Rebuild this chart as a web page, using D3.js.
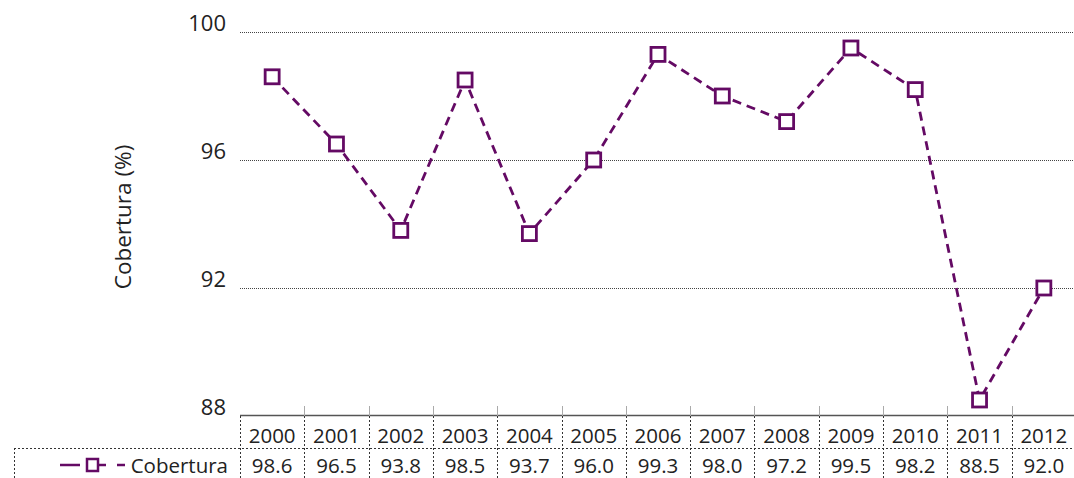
<!DOCTYPE html>
<html><head><meta charset="utf-8">
<script src="https://cdn.jsdelivr.net/npm/d3@7"></script>
<style>body{margin:0;background:#fff}svg{display:block}text{font-family:"Open Sans","Noto Sans",sans-serif;fill:#222}</style>
</head><body>
<script>
const years = ["2000","2001","2002","2003","2004","2005","2006","2007","2008","2009","2010","2011","2012"];
const values = [98.6,96.5,93.8,98.5,93.7,96.0,99.3,98.0,97.2,99.5,98.2,88.5,92.0];
const valueLabels = ["98.6","96.5","93.8","98.5","93.7","96.0","99.3","98.0","97.2","99.5","98.2","88.5","92.0"];
const yTicks = [88,92,96,100];
const seriesName = "Cobertura";
const axisTitle = "Cobertura (%)";
const color = "#640a64";

const W=1074,H=478;
const FS=20.5;
const svg=d3.select("body").append("svg").attr("width",W).attr("height",H);
const x=d3.scaleBand().domain(years).range([240,1076]);
const y=d3.scaleLinear().domain([88,100]).range([416,32]);

// gridlines
svg.append("g").selectAll("line").data(yTicks.filter(d=>d>88)).join("line")
 .attr("x1",240).attr("x2",W).attr("y1",d=>y(d)+0.5).attr("y2",d=>y(d)+0.5)
 .attr("stroke","#444").attr("stroke-width",1).attr("stroke-dasharray","1,1");
// y tick labels
svg.append("g").selectAll("text").data(yTicks).join("text")
 .attr("x",226).attr("y",d=>y(d)).attr("dy","-0.05em").attr("text-anchor","end")
 .attr("font-size",22).text(d=>d);
// axis title
svg.append("text").attr("transform","translate(131,217) rotate(-90)")
 .attr("text-anchor","middle").attr("font-size",22.5).text(axisTitle);

// bottom axis line
svg.append("line").attr("x1",240).attr("x2",W).attr("y1",415.5).attr("y2",415.5).attr("stroke","#555").attr("stroke-width",1.3);
const bounds = years.map(d=>x(d)).concat([x.range()[1]]);
// ticks above axis
svg.append("g").selectAll("line").data(bounds.slice(1,-1)).join("line")
 .attr("x1",d=>Math.round(d)+0.5).attr("x2",d=>Math.round(d)+0.5).attr("y1",406).attr("y2",416).attr("stroke","#aaa");
// table dashed verticals
svg.append("g").selectAll("line").data(bounds.slice(0,-1)).join("line")
 .attr("x1",d=>Math.round(d)+0.5).attr("x2",d=>Math.round(d)+0.5).attr("y1",416).attr("y2",H)
 .attr("stroke","#333").attr("stroke-dasharray","2,2");
svg.append("line").attr("x1",14.5).attr("x2",14.5).attr("y1",448).attr("y2",H).attr("stroke","#333").attr("stroke-dasharray","2,2");
svg.append("line").attr("x1",14).attr("x2",W).attr("y1",448.5).attr("y2",448.5).attr("stroke","#333").attr("stroke-dasharray","2,2");
// year labels
svg.append("g").selectAll("text").data(years).join("text")
 .attr("x",d=>x(d)+x.bandwidth()/2).attr("y",443).attr("text-anchor","middle").attr("font-size",FS).text(d=>d);
// value labels
svg.append("g").selectAll("text").data(valueLabels).join("text")
 .attr("x",(d,i)=>x(years[i])+x.bandwidth()/2).attr("y",473).attr("text-anchor","middle").attr("font-size",FS).text(d=>d);
// legend
const lg=svg.append("g");
lg.append("line").attr("x1",60).attr("x2",80).attr("y1",465).attr("y2",465).attr("stroke",color).attr("stroke-width",2.5);
lg.append("line").attr("x1",98).attr("x2",106).attr("y1",465).attr("y2",465).attr("stroke",color).attr("stroke-width",2.5);
lg.append("line").attr("x1",117).attr("x2",125).attr("y1",465).attr("y2",465).attr("stroke",color).attr("stroke-width",2.5);
lg.append("rect").attr("x",93-6).attr("y",465-6).attr("width",11).attr("height",12).attr("fill","#fff").attr("stroke",color).attr("stroke-width",2.5);
lg.append("text").attr("x",228).attr("y",473).attr("text-anchor","end").attr("font-size",FS).text(seriesName);

// line
const line=d3.line().x((d,i)=>x(years[i])+x.bandwidth()/2).y(d=>y(d));
svg.append("path").datum(values).attr("d",line).attr("fill","none").attr("stroke",color)
 .attr("stroke-width",2.8).attr("stroke-dasharray","9,6");
svg.append("g").selectAll("rect").data(values).join("rect")
 .attr("x",(d,i)=>x(years[i])+x.bandwidth()/2-7).attr("y",d=>y(d)-7)
 .attr("width",14).attr("height",14).attr("fill","#fff").attr("stroke",color).attr("stroke-width",2.8);
</script>
</body></html>
